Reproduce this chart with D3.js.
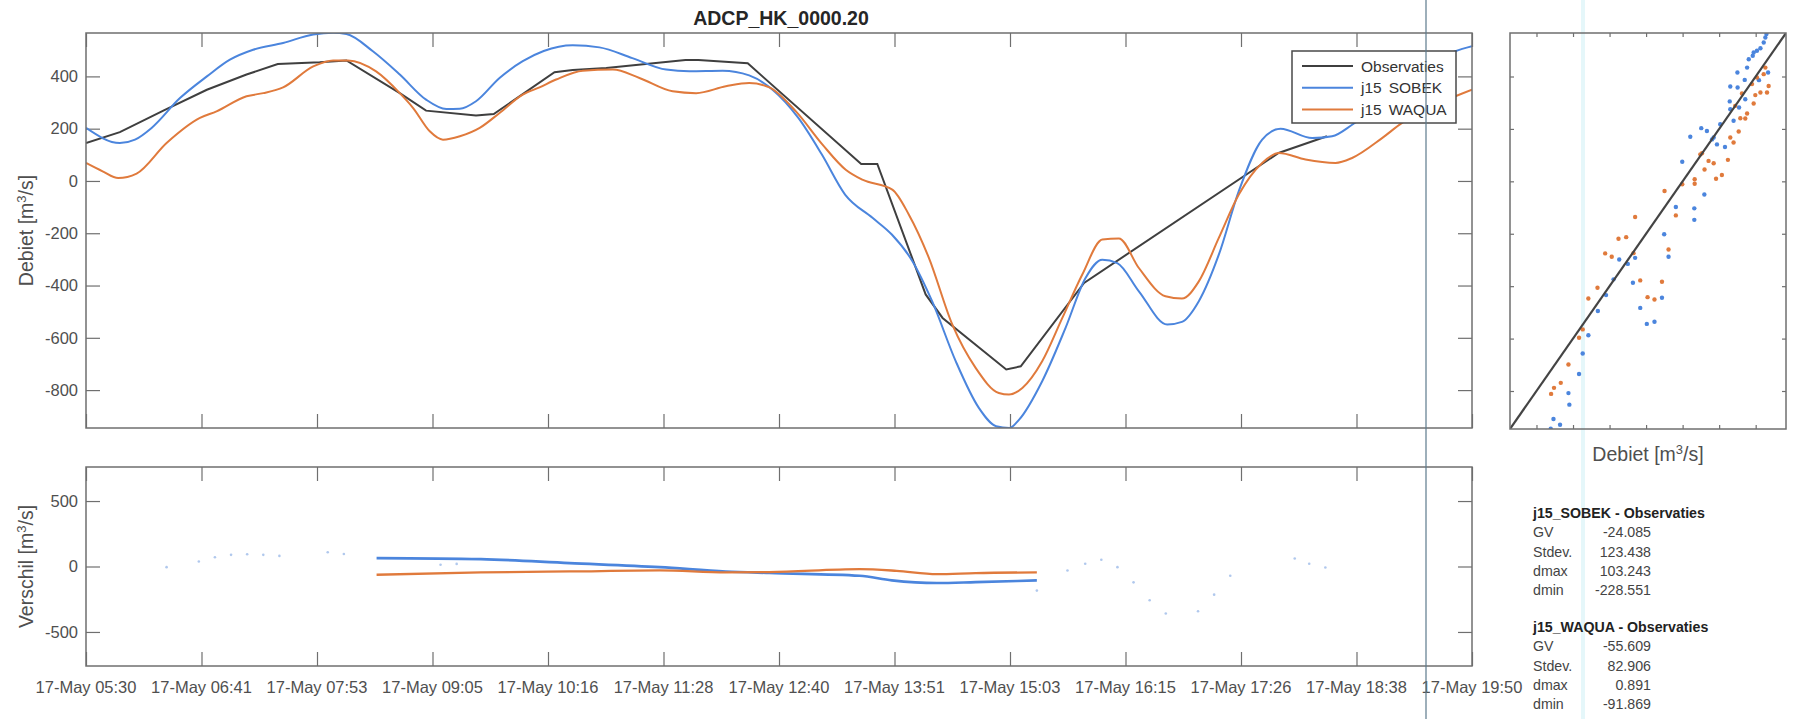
<!DOCTYPE html>
<html><head><meta charset="utf-8">
<script src="https://cdn.jsdelivr.net/npm/d3@7"></script>
<style>
html,body{margin:0;padding:0;background:#fff;}
svg{display:block;font-family:"Liberation Sans",Arial,Helvetica,sans-serif;}
</style></head>
<body>
<svg id="fig" width="1795" height="719"></svg>
<script>
// ---------------- DATA ----------------
const title = "ADCP_HK_0000.20";
const startTime = new Date(2017, 4, 17, 5, 30);   // 17-May 05:30
const spanMinutes = 860;                            // until 19:50
const xTickLabels = ["17-May 05:30","17-May 06:41","17-May 07:53","17-May 09:05","17-May 10:16","17-May 11:28","17-May 12:40","17-May 13:51","17-May 15:03","17-May 16:15","17-May 17:26","17-May 18:38","17-May 19:50"];
const mainYTicks = [400, 200, 0, -200, -400, -600, -800];
const diffYTicks = [500, 0, -500];
const seriesNames = ["Observaties", "j15_SOBEK", "j15_WAQUA"];

// times in minutes after 05:30, values in m3/s
const obsTime  = [0,21,48,75,99.6,119,145,161.6,194.7,211,242,253,290.7,302,322.8,372,380,410.6,481,491,521,531.5,571,580,619.3,740,770];
const obsValue = [145,187,269,349,407,447,454,461,336,269,250,256,416,424,432,463,463,450,65,65,-434,-524,-721,-709,-390,107,171];

const sobekTime  = [0,21,30.4,40.7,58.3,75,89.3,103.7,122.3,141,153.3,161.6,178,194.7,211,223.6,231.9,242,256.6,271,284,302,318.6,339,360,374.4,395,411.5,426,442,456.6,471,488,500,512.8,525,539.7,554,564.7,573,579,593.3,607.8,620.2,630.6,639.9,653.3,670.9,680,690.5,702.9,715.3,729.8,741.2,760.8,773.2,785.6,800,815,830,849.7,860];
const sobekValue = [203,145,158,203,317,400,464,502,528,560,567,562,496,407,311,275,276,305,394,458,497,519,511,470,426,420,422,404,349,241,101,-52,-141,-205,-307,-460,-690,-868,-938,-945,-913,-766,-562,-371,-301,-314,-422,-549,-539,-460,-282,-39,158,200,164,171,215,280,360,430,496,515];

const waquaTime  = [0,10.3,20,31.4,50,70.7,81,99.6,110,122.3,141,153.3,162.6,180,194.7,203,213.3,221.5,232,244.3,256.6,271,281.4,291.7,308.3,326.9,343.4,364,378.6,397,411.5,424,440.5,457,471.4,481.7,500.3,510.6,523,537.5,552,566.4,572.7,581,593.3,605.8,618.2,630.6,640.9,653.3,669.8,680,690.5,702.9,715.3,729.8,740.2,756.7,775.3,785.6,804.2,816.6,830,849.7,860];
const waquaValue = [69,37,11,28,145,241,266,324,336,358,438,461,461,419,336,279,190,158,171,203,260,330,358,388,422,426,394,343,336,362,375,358,266,139,43,5,-33,-129,-294,-549,-715,-811,-817,-792,-690,-524,-358,-224,-220,-333,-441,-450,-384,-218,-52,69,107,82,69,88,164,222,270,324,349];

// differences (model - observation)
const sobekDiffTime  = [180.3,245,300,356,397,424,480,500,528,552,590];
const sobekDiffValue = [64,56,26,-5,-38,-50,-71,-106,-126,-119,-106];
const waquaDiffTime  = [180.3,245,300,356,397,424,480,503,528,552,590];
const waquaDiffValue = [-63,-45,-38,-30,-45,-43,-20,-33,-58,-50,-45];
// faint difference dots outside the line period
const faintDiffTime  = [50,70,80,90,100,110,120,150,160,220,230,590,609,620,630,640,650,660,670,690,700,710,750,759,769];
const faintDiffValue = [-5,38,71,89,94,89,81,109,96,13,20,-184,-30,21,51,-5,-121,-258,-359,-342,-215,-71,61,21,-8];

// scatter: observation (x) vs model (y)
const scatterSobekObs = [-722,-671,-707,-620,-625,-567,-547,-516,-464,-419,-378,-300,-272,-260,-347,-232,-196,-154,-113,-101,-77,-37,-2,64,64,119,42,102,133,161,188,232,261,279,258,309,261,301,343,353,300,340,384,389,407,426,444,453,459,468,418,362,170,206];
const scatterSobekMod = [-944,-929,-907,-852,-808,-735,-657,-587,-495,-434,-374,-315,-387,-292,-298,-483,-544,-536,-444,-202,-288,-98,75,-103,-147,-50,170,203,192,160,141,131,275,231,305,282,362,358,313,434,415,387,479,492,498,508,530,549,562,415,386,466,167,218];
const scatterWaquaObs = [-720,-704,-667,-625,-567,-547,-516,-466,-424,-388,-351,-309,-260,-269,-232,-192,-154,-113,-77,-99,-37,-2,66,66,106,120,142,170,183,215,248,261,279,307,316,343,353,389,398,426,462,444,453,471,407,380,325,288,97];
const scatterWaquaMod = [-811,-788,-769,-699,-597,-565,-447,-406,-275,-288,-219,-213,-136,-274,-378,-442,-451,-383,-260,-37,-130,-11,8,-9,107,45,78,69,10,24,82,167,148,190,241,240,259,297,329,339,339,409,434,364,396,371,335,288,103];

// statistics text
const statsSobek = {head:"j15_SOBEK - Observaties", labels:["GV","Stdev.","dmax","dmin"], values:["-24.085","123.438","103.243","-228.551"]};
const statsWaqua = {head:"j15_WAQUA - Observaties", labels:["GV","Stdev.","dmax","dmin"], values:["-55.609","82.906","0.891","-91.869"]};

// ---------------- STYLE ----------------
const C = {obs:"#3f3f3f", sobek:"#4b85dd", waqua:"#e07a3c", axis:"#6f6f6f", text:"#4f4f4f"};
const svg = d3.select("#fig");
const tAt = m => new Date(startTime.getTime() + m*60000);
const zip = (a,b) => a.map((t,i)=>[t,b[i]]);

const M = {l:86, r:1472, t:33, b:428};
const R = {l:86, r:1472, t:467, b:666};
const S = {l:1510, r:1786, t:33, b:429};

const x = d3.scaleTime().domain([tAt(0), tAt(spanMinutes)]).range([M.l, M.r]);
const tickDates = d3.range(13).map(i => tAt(i*spanMinutes/12));
const yMain = d3.scaleLinear().domain([-945, 566]).range([M.b, M.t]);
const yDiff = d3.scaleLinear().domain([-760, 760]).range([R.b, R.t]);
const sx = d3.scaleLinear().domain([-945, 566]).range([S.l, S.r]);
const sy = d3.scaleLinear().domain([-945, 566]).range([S.b, S.t]);

function clip(id, B){
  svg.append("clipPath").attr("id", id).append("rect")
    .attr("x", B.l).attr("y", B.t).attr("width", B.r-B.l).attr("height", B.b-B.t);
}
clip("cm", M); clip("cr", R); clip("cs", S);

function styleAxis(g, fs){
  g.select(".domain").remove();
  g.selectAll(".tick line").attr("stroke", C.axis).attr("stroke-width", 1.2);
  g.selectAll(".tick text").attr("fill", C.text).style("font-size", fs+"px")
   .style("font-family", '"Liberation Sans",Arial,sans-serif');
}
function frame(B){
  svg.append("rect").attr("x",B.l).attr("y",B.t).attr("width",B.r-B.l).attr("height",B.b-B.t)
    .attr("fill","none").attr("stroke",C.axis).attr("stroke-width",1.5);
}

// ---------- main plot ----------
const tl = 14;
svg.append("g").attr("transform",`translate(0,${M.b})`)
  .call(d3.axisTop(x).tickValues(tickDates).tickSize(tl).tickFormat("")).call(g=>styleAxis(g,16));
svg.append("g").attr("transform",`translate(0,${M.t})`)
  .call(d3.axisBottom(x).tickValues(tickDates).tickSize(tl).tickFormat("")).call(g=>styleAxis(g,16));
svg.append("g").attr("transform",`translate(${M.l},0)`)
  .call(d3.axisRight(yMain).tickValues(mainYTicks).tickSize(tl).tickFormat("")).call(g=>styleAxis(g,16));
svg.append("g").attr("transform",`translate(${M.r},0)`)
  .call(d3.axisLeft(yMain).tickValues(mainYTicks).tickSize(tl).tickFormat("")).call(g=>styleAxis(g,16));
svg.append("g").selectAll("text").data(mainYTicks).join("text")
  .attr("x", M.l-8).attr("y", d=>yMain(d)).attr("dy","0.35em").attr("text-anchor","end")
  .attr("fill",C.text).style("font-size","16.5px").text(d=>d);

const line = (y, curve) => d3.line().curve(curve || d3.curveLinear).x(d=>x(tAt(d[0]))).y(d=>y(d[1]));
const gm = svg.append("g").attr("clip-path","url(#cm)");
gm.append("path").datum(zip(obsTime,obsValue)).attr("d",line(yMain)).attr("fill","none").attr("stroke",C.obs).attr("stroke-width",2);
gm.append("path").datum(zip(sobekTime,sobekValue)).attr("d",line(yMain, d3.curveMonotoneX)).attr("fill","none").attr("stroke",C.sobek).attr("stroke-width",2);
gm.append("path").datum(zip(waquaTime,waquaValue)).attr("d",line(yMain, d3.curveMonotoneX)).attr("fill","none").attr("stroke",C.waqua).attr("stroke-width",2);
frame(M);

// title
svg.append("text").attr("x",781).attr("y",25).attr("text-anchor","middle").attr("fill","#262626")
  .style("font-size","19.5px").style("font-weight","bold").text(title);

// y labels
function ylab(txt, cx, cy){
  const t = svg.append("text").attr("transform",`translate(${cx},${cy}) rotate(-90)`)
    .attr("text-anchor","middle").attr("fill",C.text).style("font-size","19.5px");
  t.append("tspan").text(txt+" [m");
  t.append("tspan").attr("dy",-7).style("font-size","13px").text("3");
  t.append("tspan").attr("dy",7).text("/s]");
  return t;
}
ylab("Debiet", 33, (M.t+M.b)/2);
ylab("Verschil", 33, (R.t+R.b)/2);

// legend
const L = {x:1292, y:51, w:164, h:72};
const lg = svg.append("g");
lg.append("rect").attr("x",L.x).attr("y",L.y).attr("width",L.w).attr("height",L.h)
  .attr("fill","#fff").attr("stroke","#4a4a4a").attr("stroke-width",1.5);
const legColors = [C.obs, C.sobek, C.waqua];
seriesNames.forEach((n,i)=>{
  const yy = L.y + 15 + i*21.8;
  lg.append("line").attr("x1",L.x+10).attr("x2",L.x+61).attr("y1",yy).attr("y2",yy)
    .attr("stroke",legColors[i]).attr("stroke-width",2);
  const parts = n.split("_");
  const tx = lg.append("text").attr("x",L.x+69).attr("y",yy).attr("dy","0.36em")
    .attr("fill","#333").style("font-size","15.5px");
  tx.append("tspan").text(parts[0]);
  if(parts.length>1) tx.append("tspan").attr("dx",7).text(parts[1]);
});

// ---------- difference plot ----------
svg.append("g").attr("transform",`translate(0,${R.b})`)
  .call(d3.axisTop(x).tickValues(tickDates).tickSize(tl).tickFormat("")).call(g=>styleAxis(g,16));
svg.append("g").attr("transform",`translate(0,${R.t})`)
  .call(d3.axisBottom(x).tickValues(tickDates).tickSize(tl).tickFormat("")).call(g=>styleAxis(g,16));
svg.append("g").attr("transform",`translate(${R.l},0)`)
  .call(d3.axisRight(yDiff).tickValues(diffYTicks).tickSize(tl).tickFormat("")).call(g=>styleAxis(g,16));
svg.append("g").attr("transform",`translate(${R.r},0)`)
  .call(d3.axisLeft(yDiff).tickValues(diffYTicks).tickSize(tl).tickFormat("")).call(g=>styleAxis(g,16));
svg.append("g").selectAll("text").data(diffYTicks).join("text")
  .attr("x", R.l-8).attr("y", d=>yDiff(d)).attr("dy","0.35em").attr("text-anchor","end")
  .attr("fill",C.text).style("font-size","16.5px").text(d=>d);
svg.append("g").selectAll("text").data(tickDates).join("text")
  .attr("x", d=>x(d)).attr("y", 693).attr("text-anchor","middle")
  .attr("fill",C.text).style("font-size","16.5px").text((d,i)=>xTickLabels[i]);

const gr = svg.append("g").attr("clip-path","url(#cr)");
gr.selectAll("circle").data(zip(faintDiffTime,faintDiffValue)).join("circle")
  .attr("cx",d=>x(tAt(d[0]))).attr("cy",d=>yDiff(d[1])).attr("r",1.3)
  .attr("fill","#8fb0e6").attr("opacity",0.7);
gr.append("path").datum(zip(sobekDiffTime,sobekDiffValue)).attr("d",line(yDiff, d3.curveMonotoneX)).attr("fill","none").attr("stroke",C.sobek).attr("stroke-width",2.6);
gr.append("path").datum(zip(waquaDiffTime,waquaDiffValue)).attr("d",line(yDiff, d3.curveMonotoneX)).attr("fill","none").attr("stroke",C.waqua).attr("stroke-width",2.3);
frame(R);

// ---------- scatter ----------
const sTicks = [-800,-600,-400,-200,0,200,400];
const st = 4;
svg.append("g").attr("transform",`translate(0,${S.b})`).call(d3.axisTop(sx).tickValues(sTicks).tickSize(st).tickFormat("")).call(g=>styleAxis(g,12));
svg.append("g").attr("transform",`translate(0,${S.t})`).call(d3.axisBottom(sx).tickValues(sTicks).tickSize(st).tickFormat("")).call(g=>styleAxis(g,12));
svg.append("g").attr("transform",`translate(${S.l},0)`).call(d3.axisRight(sy).tickValues(sTicks).tickSize(st).tickFormat("")).call(g=>styleAxis(g,12));
svg.append("g").attr("transform",`translate(${S.r},0)`).call(d3.axisLeft(sy).tickValues(sTicks).tickSize(st).tickFormat("")).call(g=>styleAxis(g,12));
const gs = svg.append("g").attr("clip-path","url(#cs)");
gs.selectAll("circle.s").data(zip(scatterSobekObs,scatterSobekMod)).join("circle").attr("class","s")
  .attr("cx",d=>sx(d[0])).attr("cy",d=>sy(d[1])).attr("r",2.2).attr("fill",C.sobek);
gs.selectAll("circle.w").data(zip(scatterWaquaObs,scatterWaquaMod)).join("circle").attr("class","w")
  .attr("cx",d=>sx(d[0])).attr("cy",d=>sy(d[1])).attr("r",2.2).attr("fill",C.waqua);
gs.append("line").attr("x1",sx(-945)).attr("y1",sy(-945)).attr("x2",sx(566)).attr("y2",sy(566))
  .attr("stroke","#444").attr("stroke-width",2.2);
frame(S);
{
  const t = svg.append("text").attr("x",(S.l+S.r)/2).attr("y",461).attr("text-anchor","middle")
    .attr("fill",C.text).style("font-size","19.5px");
  t.append("tspan").text("Debiet [m");
  t.append("tspan").attr("dy",-7).style("font-size","13px").text("3");
  t.append("tspan").attr("dy",7).text("/s]");
}

// ---------- statistics ----------
function stats(block, y0){
  svg.append("text").attr("x",1533).attr("y",y0).attr("fill","#222")
    .style("font-size","14.2px").style("font-weight","bold").text(block.head);
  block.labels.forEach((lab,i)=>{
    const yy = y0 + 19.3*(i+1);
    svg.append("text").attr("x",1533).attr("y",yy).attr("fill","#444").style("font-size","14.2px").text(lab);
    svg.append("text").attr("x",1651).attr("y",yy).attr("text-anchor","end").attr("fill","#444").style("font-size","14.2px").text(block.values[i]);
  });
}
stats(statsSobek, 518);
stats(statsWaqua, 632);

// ---------- vertical guide lines ----------
svg.append("line").attr("x1",1583).attr("x2",1583).attr("y1",0).attr("y2",719)
  .attr("stroke","#dff6f9").attr("stroke-width",4).attr("opacity",0.8).lower();
svg.append("line").attr("x1",1426).attr("x2",1426).attr("y1",0).attr("y2",719)
  .attr("stroke","#5d7a8c").attr("stroke-width",1.2);
</script>
</body></html>
